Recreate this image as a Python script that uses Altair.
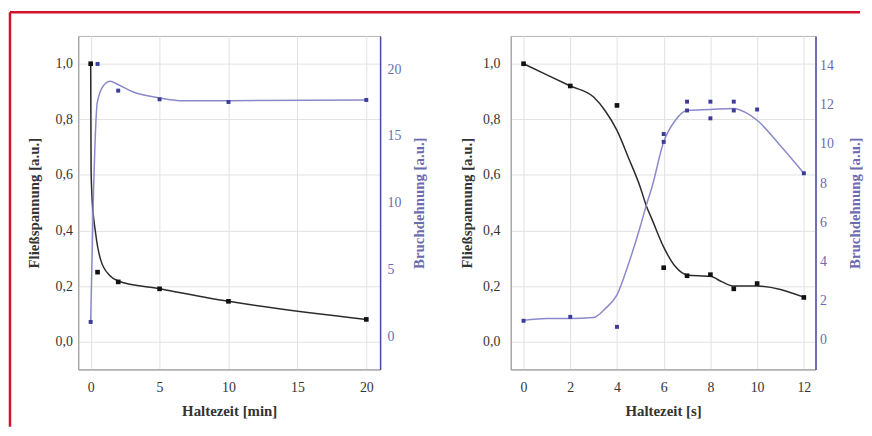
import altair as alt
import pandas as pd

# ---------------- Left panel: Haltezeit [min] ----------------
l_fs_x = [0, 0.5, 2, 5, 10, 20]
l_fs = [1.0, 0.25, 0.215, 0.19, 0.145, 0.08]
l_bd_x = [0, 0.5, 2, 5, 10, 20]
l_bd = [1.06, 20.4, 18.4, 17.75, 17.55, 17.7]
l_fs_curve_x = [0, 0.03, 0.1, 0.36, 0.72, 1.4, 2, 5, 10, 20]
l_fs_curve = [1.0, 0.62, 0.52, 0.39, 0.295, 0.237, 0.218, 0.19, 0.145, 0.08]
l_bd_curve_x = [0, 0.19, 0.48, 0.95, 1.43, 1.9, 3.1, 5, 6.5, 10, 20]
l_bd_curve = [1.06, 10.1, 17.5, 18.8, 19.1, 18.9, 18.3, 17.85, 17.65, 17.65, 17.7]

# ---------------- Right panel: Haltezeit [s] ----------------
r_fs_x = [0, 2, 4, 6, 7, 8, 9, 10, 12]
r_fs = [1.0, 0.92, 0.85, 0.266, 0.237, 0.241, 0.19, 0.209, 0.159]
r_bd_x = [0, 2, 4, 6, 6, 7, 7, 8, 8, 9, 9, 10, 12]
r_bd = [0.98, 1.18, 0.67, 10.5, 10.1, 12.15, 11.7, 12.15, 11.3, 12.15, 11.7, 11.75, 8.5]
r_fs_curve_x = [0, 2, 3, 3.5, 4, 4.5, 5, 5.25, 5.5, 6, 6.5, 7, 8, 8.5, 9, 10, 12]
r_fs_curve = [1.0, 0.92, 0.88, 0.83, 0.76, 0.66, 0.555, 0.49, 0.44, 0.34, 0.27, 0.24, 0.235, 0.215, 0.2, 0.2, 0.16]
r_bd_curve_x = [0, 1, 2, 3, 3.5, 4, 4.5, 5, 5.25, 5.5, 6, 6.5, 7, 8, 9, 9.5, 10, 11, 12]
r_bd_curve = [1.0, 1.1, 1.1, 1.15, 1.6, 2.3, 3.9, 5.8, 6.85, 7.8, 10.1, 11.2, 11.7, 11.75, 11.8, 11.6, 11.2, 9.9, 8.5]

FONT = "Liberation Serif"
BLACK = "#2b2b2b"
BLUE_LINE = "#8a8acb"
BLUE_PT = "#3d3d99"
BLUE_AXIS = "#4b4ba3"
BLUE_TEXT = "#6b6bb0"
GRID = "#e2e2e2"
RED = "#d4102c"

comma = "replace(format(datum.value, '.1f'), '.', ',')"


def panel(fs_x, fs, fs_cx, fs_c, bd_x, bd, bd_cx, bd_c, xdom, xvals, xtitle,
          bddom, bdvals, width, lpad_left, tpad_left, lpad_right, tpad_right, frame=False):
    xenc = alt.X("t:Q", scale=alt.Scale(domain=xdom, nice=False, zero=False),
                 axis=alt.Axis(values=xvals, title=xtitle, grid=True, gridColor=GRID,
                               ticks=False, tickSize=0, labelPadding=11, titlePadding=10,
                               domainColor="#9a9a9a", labelFont=FONT, titleFont=FONT,
                               labelFontSize=14, titleFontSize=15, labelColor="#333",
                               titleColor="#333", titleFontWeight="bold"))
    yfs = alt.Y("v:Q", scale=alt.Scale(domain=[-0.1, 1.1], nice=False, zero=False),
                axis=alt.Axis(values=[0, 0.2, 0.4, 0.6, 0.8, 1.0], labelExpr=comma,
                              title="Fließspannung [a.u.]", grid=True, gridColor=GRID,
                              ticks=False, tickSize=0, labelPadding=lpad_left,
                              titlePadding=tpad_left, domainColor="#9a9a9a",
                              labelFont=FONT, titleFont=FONT, labelFontSize=14,
                              titleFontSize=15, labelColor="#333", titleColor="#333",
                              titleFontWeight="bold", orient="left"))
    ybd = alt.Y("v:Q", scale=alt.Scale(domain=bddom, nice=False, zero=False),
                axis=alt.Axis(values=bdvals, title="Bruchdehnung [a.u.]", grid=False,
                              ticks=False, tickSize=0, labelPadding=lpad_right,
                              titlePadding=tpad_right, domainColor=BLUE_AXIS,
                              domainWidth=1.5, labelFont=FONT, titleFont=FONT,
                              labelFontSize=14, titleFontSize=15, labelColor=BLUE_TEXT,
                              titleColor=BLUE_TEXT, titleFontWeight="bold",
                              titleAngle=270, orient="right"))

    fs_line = alt.Chart(pd.DataFrame({"t": fs_cx, "v": fs_c})).mark_line(
        color=BLACK, strokeWidth=1.5, interpolate="monotone").encode(x=xenc, y=yfs)
    fs_pts = alt.Chart(pd.DataFrame({"t": fs_x, "v": fs})).mark_square(
        color="#111111", size=22, opacity=1).encode(x=xenc, y=yfs)
    black_layers = [fs_line, fs_pts]
    if frame:
        fdf = pd.DataFrame({"k": [0]})
        black_layers.append(alt.Chart(fdf).mark_rule(color=RED, strokeWidth=2.5).encode(
            x=alt.value(-69), x2=alt.value(790), y=alt.value(-24)))
        black_layers.append(alt.Chart(fdf).mark_rule(color=RED, strokeWidth=2.5).encode(
            x=alt.value(-69), y=alt.value(-24), y2=alt.value(395)))
    black = alt.layer(*black_layers)

    bd_line = alt.Chart(pd.DataFrame({"t": bd_cx, "v": bd_c})).mark_line(
        color=BLUE_LINE, strokeWidth=1.5, interpolate="monotone").encode(x=xenc, y=ybd)
    bd_pts = alt.Chart(pd.DataFrame({"t": bd_x, "v": bd})).mark_square(
        color=BLUE_PT, size=16, opacity=1).encode(x=xenc, y=ybd)
    blue = alt.layer(bd_line, bd_pts)

    return alt.layer(black, blue).resolve_scale(y="independent").properties(
        width=width, height=337)


left = panel(l_fs_x, l_fs, l_fs_curve_x, l_fs_curve, l_bd_x, l_bd, l_bd_curve_x, l_bd_curve,
             [-0.9, 21], [0, 5, 10, 15, 20], "Haltezeit [min]",
             [-2.5, 22.5], [0, 5, 10, 15, 20], 305, 6, 14, 7, 26, frame=True)
right = panel(r_fs_x, r_fs, r_fs_curve_x, r_fs_curve, r_bd_x, r_bd, r_bd_curve_x, r_bd_curve,
              [-0.55, 12.5], [0, 2, 4, 6, 8, 10, 12], "Haltezeit [s]",
              [-1.5, 15.5], [0, 2, 4, 6, 8, 10, 12, 14], 308, 11, 8, 4, 29)

chart = alt.hconcat(left, right, spacing=132, bounds="flush").properties(
    padding={"left": 0, "top": 0, "right": 1, "bottom": 1},
    background="white",
).configure_view(stroke="#b5b5b5", strokeWidth=1).configure_axis(
    labelFont=FONT, titleFont=FONT)

chart.save("out.html", embed_options={"renderer": "svg", "actions": False})
